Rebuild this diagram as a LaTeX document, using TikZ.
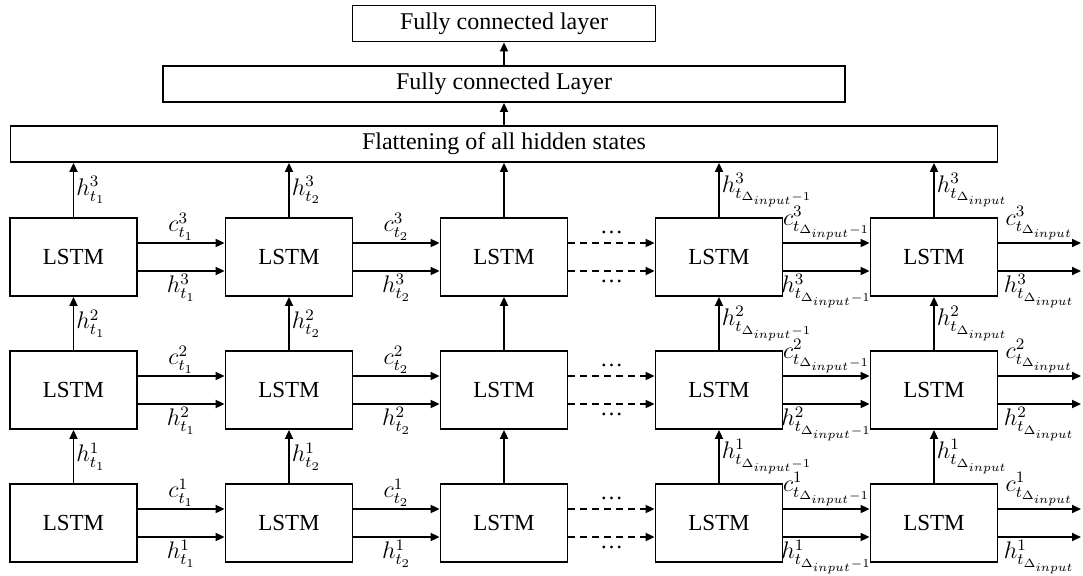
\documentclass[tikz,border=0pt]{standalone}
\usepackage{fontspec}
\setmainfont{Liberation Serif}
\usepackage{amsmath}
\DeclareMathSizes{11.5}{11.5}{8.5}{6.5}
\usetikzlibrary{arrows.meta, positioning, calc}
\tikzset{
  lstm/.style={rectangle, draw=black, minimum width=63.5pt, minimum height=39pt,
    inner sep=0pt, line width=0.9pt, font=\fontsize{11.5}{13}\selectfont},
  layer/.style={rectangle, draw=black, minimum height=18pt,
    inner sep=0pt, line width=0.9pt, font=\fontsize{12}{14}\selectfont},
  arrow/.style={-{Triangle[length=4.5pt, width=4pt]}, line width=0.9pt},
  dasharrow/.style={arrow, dash pattern=on 3.5pt off 2.5pt},
  lbl/.style={inner sep=1pt, font=\fontsize{11.5}{13}\selectfont},
  gap/.style={inner sep=0pt, font=\fontsize{11.5}{13}\selectfont}
}
\begin{document}
\begin{tikzpicture}[x=0.5pt, y=-0.5pt]
  \useasboundingbox (0,0) rectangle (1083,575);

  % Dense layers
  \node[layer, minimum width=151.5pt] (fc2) at (504,23.5) {Fully connected layer};
  \node[layer, minimum width=341pt] (fc1) at (504,84) {Fully connected Layer};
  \node[layer, minimum width=493.5pt] (flat) at (504,144) {Flattening of all hidden states};

  % LSTM cells (row 1 = bottom)
  \foreach \r/\y in {1/523, 2/390, 3/257}
    \foreach \c/\x in {1/73.5, 2/289, 3/504, 4/719, 5/934}
      \node[lstm] (l\r\c) at (\x,\y) {LSTM};

  % Outputs
  \foreach \r/\y in {1/523, 2/390, 3/257}
    \coordinate (o\r) at (1081,\y);

  % Cell and hidden states through time
  \foreach \r in {1,2,3} {
    \draw[arrow] ([yshift=7pt]l\r1.east) -- node[lbl, above] {$c^{\r}_{t_1}$} ([yshift=7pt]l\r2.west);
    \draw[arrow] ([yshift=-7pt]l\r1.east) -- node[lbl, below] {$h^{\r}_{t_1}$} ([yshift=-7pt]l\r2.west);
    \draw[arrow] ([yshift=7pt]l\r2.east) -- node[lbl, above] {$c^{\r}_{t_2}$} ([yshift=7pt]l\r3.west);
    \draw[arrow] ([yshift=-7pt]l\r2.east) -- node[lbl, below] {$h^{\r}_{t_2}$} ([yshift=-7pt]l\r3.west);
    \draw[dasharrow] ([yshift=7pt]l\r3.east) -- node[gap, above=4pt] {\ldots} ([yshift=7pt]l\r4.west);
    \draw[dasharrow] ([yshift=-7pt]l\r3.east) -- node[gap, below=4pt] {\ldots} ([yshift=-7pt]l\r4.west);
    \draw[arrow] ([yshift=7pt]l\r4.east) -- node[lbl, above] {$c^{\r}_{t_{\Delta_{input}-1}}$} ([yshift=7pt]l\r5.west);
    \draw[arrow] ([yshift=-7pt]l\r4.east) -- node[lbl, below] {$h^{\r}_{t_{\Delta_{input}-1}}$} ([yshift=-7pt]l\r5.west);
    \draw[arrow] ([yshift=7pt]l\r5.east) -- node[lbl, above] {$c^{\r}_{t_{\Delta_{input}}}$} ([yshift=7pt]o\r);
    \draw[arrow] ([yshift=-7pt]l\r5.east) -- node[lbl, below] {$h^{\r}_{t_{\Delta_{input}}}$} ([yshift=-7pt]o\r);
  }

  % Hidden states between layers
  \foreach \c/\s in {1/{t_1}, 2/{t_2}, 4/{t_{\Delta_{input}-1}}, 5/{t_{\Delta_{input}}}} {
    \draw[arrow] (l1\c) -- node[lbl, right] {$h^1_{\s}$} (l2\c);
    \draw[arrow] (l2\c) -- node[lbl, right] {$h^2_{\s}$} (l3\c);
    \draw[arrow] (l3\c.north) -- node[lbl, right] {$h^3_{\s}$} (l3\c.north |- flat.south);
  }
  \draw[arrow] (l13) -- (l23);
  \draw[arrow] (l23) -- (l33);
  \draw[arrow] (l33) -- (flat);

  % Dense part
  \draw[arrow] (flat) -- (fc1);
  \draw[arrow] (fc1) -- (fc2);
\end{tikzpicture}
\end{document}
